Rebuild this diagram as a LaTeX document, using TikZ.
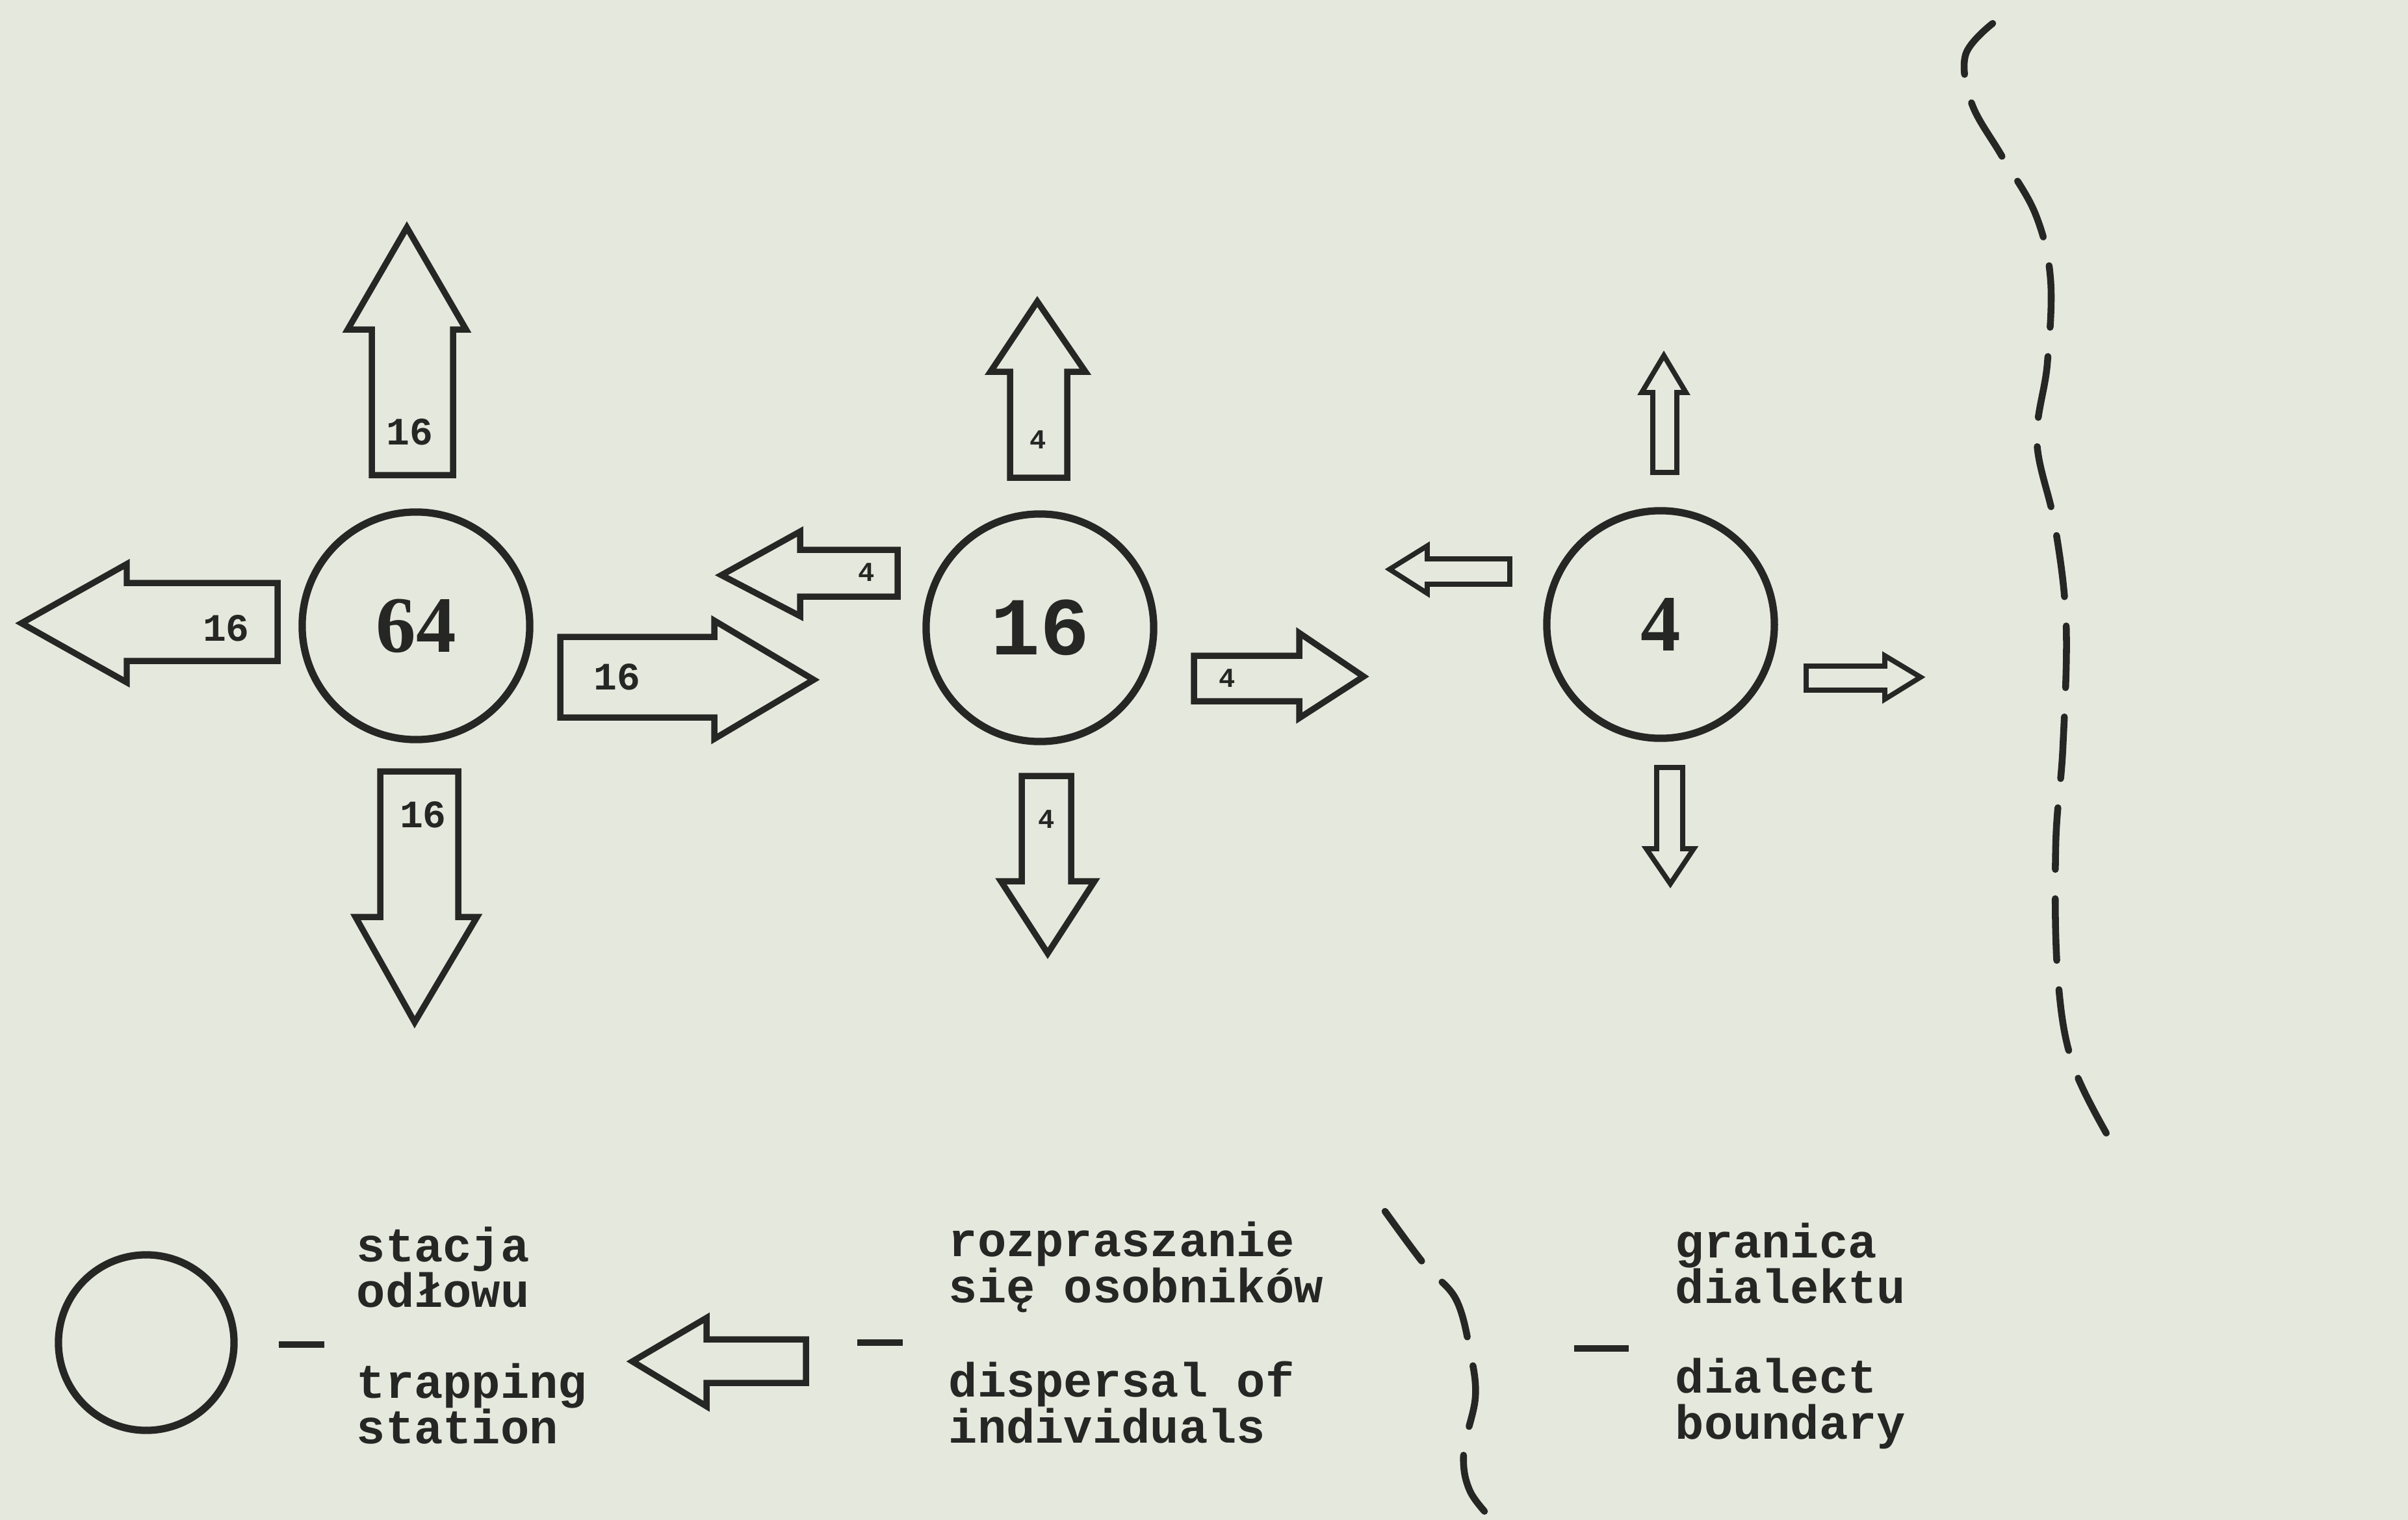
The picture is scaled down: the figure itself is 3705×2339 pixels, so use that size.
\documentclass[tikz,border=0pt]{standalone}
\usepackage{fontspec}
\setmainfont{Liberation Serif}
\setmonofont{Liberation Mono}

\definecolor{paper}{RGB}{229,232,221}
\definecolor{ink}{RGB}{38,38,36}

\tikzset{
  station/.style={circle, draw=ink, line width=3.2pt, minimum size=3.5cm, inner sep=0pt, text=ink},
  bigarrow/.style={draw=ink, line width=2.7pt, line join=miter},
  smallarrow/.style={draw=ink, line width=2.2pt, line join=miter},
  count/.style={font=\ttfamily\bfseries\fontsize{17}{17}\selectfont, text=ink, inner sep=0pt},
  smallcount/.style={font=\ttfamily\bfseries\fontsize{12}{12}\selectfont, text=ink, inner sep=0pt},
  legtext/.style={font=\ttfamily\bfseries\fontsize{21}{20}\selectfont, align=left, anchor=west, inner sep=0pt, text=ink},
  legdash/.style={inner sep=0pt, text=ink},
  boundary/.style={draw=ink, line width=3pt, line cap=round, dash pattern=on 0.95cm off 0.45cm}
}

\begin{document}
\begin{tikzpicture}[x=0.01cm, y=-0.01cm]
% Page of the scan
\fill[paper] (0,0) rectangle (3705,2339);
\useasboundingbox (0,0) rectangle (3705,2339);

% Trapping stations
\node[station, font=\bfseries\fontsize{35}{35}\selectfont] (s64) at (640,963) {64};
\node[station, font=\ttfamily\bfseries\fontsize{36}{36}\selectfont] (s16) at (1600,966) {16};
\node[station, font=\bfseries\fontsize{35}{35}\selectfont] (s4) at (2555,961) {4};

% Dispersal from station 64
\draw[bigarrow] (572,731) -- (572,507) -- (535,507) -- (626,350) -- (717,507) -- (697,507) -- (697,731) -- cycle;
\node[count] (c64up) at (630,665) {16};
\draw[bigarrow] (427,897) -- (195,897) -- (195,868) -- (33,959) -- (195,1050) -- (195,1017) -- (427,1017) -- cycle;
\node[count] (c64left) at (348,967) {16};
\draw[bigarrow] (862,980) -- (1099,980) -- (1099,955) -- (1252,1046) -- (1099,1137) -- (1099,1104) -- (862,1104) -- cycle;
\node[count] (c64right) at (949,1042) {16};
\draw[bigarrow] (585,1187) -- (705,1187) -- (705,1411) -- (734,1411) -- (638,1573) -- (547,1411) -- (585,1411) -- cycle;
\node[count] (c64down) at (651,1254) {16};

% Dispersal from station 16
\draw[bigarrow] (1554,735) -- (1554,572) -- (1524,572) -- (1596,464) -- (1670,572) -- (1642,572) -- (1642,735) -- cycle;
\node[smallcount] (c16up) at (1597,677) {4};
\draw[bigarrow] (1381,846) -- (1231,846) -- (1231,818) -- (1110,885) -- (1231,948) -- (1231,918) -- (1381,918) -- cycle;
\node[smallcount] (c16left) at (1333,881) {4};
\draw[bigarrow] (1837,1009) -- (1999,1009) -- (1999,974) -- (2098,1041) -- (1999,1105) -- (1999,1079) -- (1837,1079) -- cycle;
\node[smallcount] (c16right) at (1888,1044) {4};
\draw[bigarrow] (1572,1194) -- (1648,1194) -- (1648,1356) -- (1684,1356) -- (1612,1467) -- (1540,1356) -- (1572,1356) -- cycle;
\node[smallcount] (c16down) at (1610,1261) {4};

% Dispersal from station 4
\draw[smallarrow] (2543,727) -- (2543,604) -- (2526,604) -- (2560,547) -- (2594,604) -- (2580,604) -- (2580,727) -- cycle;
\draw[smallarrow] (2323,860) -- (2196,860) -- (2196,840) -- (2138,876) -- (2196,913) -- (2196,899) -- (2323,899) -- cycle;
\draw[smallarrow] (2779,1025) -- (2900,1025) -- (2900,1009) -- (2955,1042) -- (2900,1076) -- (2900,1062) -- (2779,1062) -- cycle;
\draw[smallarrow] (2549,1181) -- (2589,1181) -- (2589,1306) -- (2606,1306) -- (2570,1360) -- (2533,1306) -- (2549,1306) -- cycle;

% Dialect boundary on the right
\draw[boundary] plot[smooth, tension=0.6] coordinates {(3066,36) (3024,85) (3034,160) (3080,240) (3132,330) (3155,430) (3150,560) (3134,680) (3162,810) (3179,960) (3174,1150) (3163,1300) (3166,1500) (3190,1640) (3256,1770)};

% Legend - trapping station
\node[station, minimum size=2.7cm] (legstation) at (225,2066) {};
\node[legdash] (legdash1) at (464,2069) {\rule{0.7cm}{2.6pt}};
\node[legtext] (stationpl) at (548,1950) {stacja\\odłowu};
\node[legtext] (stationen) at (548,2160) {trapping\\station};

% Legend - dispersal of individuals
\draw[bigarrow] (1240,2061) -- (1087,2061) -- (1087,2028) -- (973,2095) -- (1087,2164) -- (1087,2128) -- (1240,2128) -- cycle;
\node[legdash] (legdash2) at (1354,2066) {\rule{0.7cm}{2.6pt}};
\node[legtext] (dispersalpl) at (1459,1950) {rozpraszanie\\się osobników};
\node[legtext] (dispersalen) at (1459,2158) {dispersal of\\individuals};

% Legend - dialect boundary
\draw[boundary] plot[smooth, tension=0.6] coordinates {(2131,1864) (2191,1945) (2240,1999) (2262,2080) (2270,2150) (2252,2235) (2262,2295) (2302,2345)};
\node[legdash] (legdash3) at (2464,2075) {\rule{0.84cm}{2.6pt}};
\node[legtext] (boundarypl) at (2577,1944) {granica\\dialektu};
\node[legtext] (boundaryen) at (2577,2160) {dialect\\boundary};
\end{tikzpicture}
\end{document}
